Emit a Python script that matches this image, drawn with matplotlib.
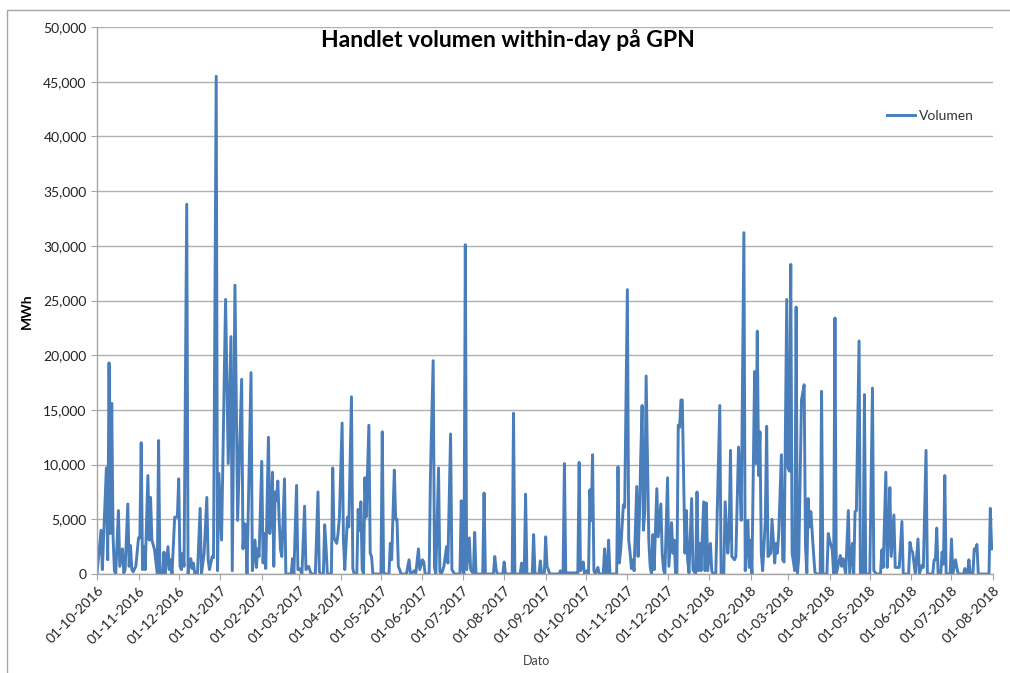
import matplotlib
matplotlib.use('Agg')
import matplotlib.pyplot as plt
import matplotlib.dates as mdates
from matplotlib.ticker import FuncFormatter, MultipleLocator
from matplotlib.patches import Rectangle
import pandas as pd

# days since 01-10-2016 and traded volume (MWh)
days = [0, 3, 4, 7, 8, 9, 10, 11, 12, 13, 14, 16, 17, 19, 20, 21, 23, 24, 25, 26, 27, 29, 31, 32, 33, 34, 35, 36,
        38, 39, 40, 41, 43, 45, 46, 47, 49, 50, 51, 53, 54, 55, 56, 58, 60, 61, 62, 63, 64, 65, 67, 68, 69, 70, 71,
        72, 73, 75, 77, 78, 80, 82, 83, 84, 86, 87, 89, 90, 91, 93, 96, 98, 100, 101, 103, 105, 108, 109, 110, 111,
        112, 115, 116, 118, 119, 120, 121, 123, 124, 125, 126, 128, 129, 130, 131, 132, 133, 134, 135, 136, 137, 138,
        140, 141, 145, 146, 147, 149, 150, 151, 152, 153, 155, 156, 158, 159, 160, 163, 165, 166, 167, 169, 170, 171,
        172, 175, 176, 177, 179, 180, 181, 183, 184, 185, 187, 188, 190, 191, 192, 194, 195, 196, 197, 198, 199, 200,
        201, 203, 204, 205, 206, 212, 213, 214, 215, 218, 219, 220, 222, 223, 224, 225, 226, 227,
        231, 233, 234, 237, 238, 240, 241, 243, 244, 245, 248, 249, 251, 252, 253, 255, 256, 257, 258, 259, 261, 262,
        264, 265, 266, 267, 271, 272, 273, 274, 275, 276, 278, 279, 280, 281, 282, 283, 288, 289, 290, 296, 297, 298,
        299, 303, 304, 305, 310, 311, 312, 316, 317, 318, 319, 320, 321, 325, 326, 327, 330, 331, 332, 334, 335, 336,
        337, 338,
        345, 346, 347, 348, 349, 350, 351, 358, 359, 360, 361, 362, 363, 364, 366, 367, 368, 369, 370, 371, 372, 374,
        375, 378, 379, 380, 381, 382, 383, 388, 389, 390, 391, 393, 394, 396, 397, 398, 399, 400, 401, 403, 404, 405,
        406, 407, 408, 409, 410, 412, 413, 414, 415, 416, 418, 419, 421, 422, 423, 424, 426, 427, 429, 430, 431, 432,
        433, 434, 435, 436, 437, 439, 440, 441, 442, 444, 445, 447, 448, 449,
        450, 451, 453, 454, 455, 456, 458, 459, 460, 462, 465, 466, 468, 469, 471, 472, 473, 474, 476, 477, 479, 480,
        481, 483, 484, 486, 487, 488, 489, 491, 492, 493, 494, 495, 496, 497, 499, 500, 501, 503, 504, 506, 507, 508,
        509, 511, 512, 513, 515, 516, 517, 518, 519, 521, 522, 523, 524, 526, 528, 529, 530, 531, 532, 533, 535, 536,
        537, 540, 541, 542, 545, 546, 547, 549, 550, 551, 552, 555, 556, 557, 559, 561, 562,
        564, 565, 566, 567, 569, 570, 572, 573, 574, 577, 579, 580, 582, 585, 586, 587, 589, 590, 591, 592, 593, 595,
        596, 599, 601, 602, 606, 607, 608, 609, 611, 613, 614, 616, 617, 619, 620, 624, 625, 626, 627, 628, 630, 631,
        632, 633, 634, 637, 638, 639, 641, 642, 643, 647, 648, 649, 650, 651, 652, 654, 655, 656, 657, 658, 666, 667,
        668]

volumen = [0, 4000, 400, 9700, 1300, 19300, 3700, 15600, 3400, 300, 0, 5800, 700, 2300, 100, 400, 6400, 700, 2600,
           400, 200, 700, 3300, 3300, 12000, 400, 2500, 400,
           9000, 3100, 7000, 3100, 2200, 0, 12200, 0, 0, 2000, 0, 2500, 400, 1300, 0, 5200, 5200, 8700, 700, 400, 1900,
           700, 33800, 0, 1000, 1400, 500,
           1000, 0, 0, 6000, 0, 1900, 7000, 1300, 400, 1600, 1500, 45500, 300, 9200, 3100, 25100, 10100, 21700, 300,
           26400, 4900, 17800, 2300, 4600, 4500,
           0, 18400, 300, 3100, 600, 2300, 1600, 10300, 1000, 3700, 500, 12500, 3700, 5800, 9300, 700, 7500, 6700,
           8500, 5000, 2200, 1600,
           8700, 0, 0, 1400, 0, 8100, 400, 500, 300, 0, 6200, 400, 700, 300, 0, 0, 7500, 200, 0, 0, 4500, 2500,
           0, 0, 9700, 3300, 2800, 3700, 5200, 13800, 3100, 400, 5200, 4300, 16200, 500, 0, 0, 5900, 4000, 6600, 400,
           0, 8800,
           5200, 13600, 1900, 1600, 0, 0, 13000, 200, 0, 0, 2800, 1300, 9500, 5000, 5000, 700, 400, 0,
           0, 1300, 0, 300, 0, 2300, 400, 1300, 1100, 0, 0, 9300, 19500, 600, 0, 9700, 200, 0, 300, 700, 2500, 1000,
           12800, 400, 200, 0, 0, 6700, 400, 0, 30100, 400, 3300, 400, 200, 0, 3800, 0, 0, 7400, 0, 0, 1600, 400,
           0, 0, 1100, 0, 0, 14700, 0, 0, 1000, 0, 0, 7300, 0, 0, 3600, 0, 0, 1200, 0, 0, 3400, 700,
           400, 0,
           0, 300, 0, 0, 10100, 0, 100, 100, 0, 10200, 300, 600, 1100, 0, 300, 0, 7700, 4900, 10900, 300, 0, 600,
           0, 0, 2300, 0, 0, 3100, 0, 0, 9800, 1000, 2200, 6300, 6100, 26000, 3100, 2000, 500, 1300, 300, 8000, 1600,
           5200,
           10800, 15400, 4000, 5800, 18100, 3100, 700, 0, 3600, 400, 7800, 3400, 6400, 1900, 400, 0, 8800, 700, 4700,
           1900, 3100, 0,
           0, 13600, 13400, 15900, 15900, 1900, 5800, 1300, 100, 6900, 400, 0, 7500, 300,
           2800, 300, 6600, 300, 6500, 300, 2800, 300, 0, 0, 15400, 0, 0, 6600, 1900, 3900, 11300, 1600, 1300, 1600,
           11600, 8800,
           4900, 31200, 300, 4900, 600, 3100, 0, 18500, 10100, 22200, 9000, 13000, 1900, 300, 4900, 13500, 1600, 1900,
           5000, 1000, 2800, 1900,
           3700, 10900, 1300, 1100, 25100, 9700, 9400, 28300, 1900, 300, 24400, 0, 1600, 15900, 17300, 2500, 100,
           6900, 4300, 5700, 1900, 200,
           0, 0, 16700, 0, 0, 3700, 3100, 2200, 0, 23400, 0, 1700, 700, 1400, 0, 5800, 0,
           2800, 0, 5700, 5800, 21300, 0, 0, 16400, 0, 0, 17000, 300, 0, 0, 2200, 600, 9300, 600, 3700, 7900, 1600,
           5400,
           600, 600, 4800, 0, 0, 2900, 2200, 2000, 0, 3200, 0, 800, 600, 11300, 0, 0, 1300, 1300, 4200, 0, 0, 2000,
           900, 9000, 0, 0, 3200, 0, 1300, 600, 0, 0, 500, 0, 0, 1300, 0, 0, 2300, 2200, 2700, 0, 0, 6000,
           2300]

start = pd.Timestamp('2016-10-01')
end = pd.Timestamp('2018-08-01')
dates = start + pd.to_timedelta(days, unit='D')

plt.rcParams['font.family'] = ['Lato', 'DejaVu Sans']

fig = plt.figure(figsize=(10.1, 6.73), dpi=100)
ax = fig.add_axes([97 / 1010, 1 - 574 / 673, (993 - 97) / 1010, (574 - 27) / 673])

ax.plot(dates, volumen, color='#4a7ebb', lw=2.1, label='Volumen', solid_joinstyle='round')

ax.set_xlim(start, end)
ax.set_ylim(0, 50000)
ax.yaxis.set_major_locator(MultipleLocator(5000))
ax.yaxis.set_major_formatter(FuncFormatter(lambda v, p: '{:,.0f}'.format(v)))
ax.xaxis.set_major_locator(mdates.MonthLocator())
ax.xaxis.set_major_formatter(mdates.DateFormatter('%d-%m-%Y'))

ax.grid(axis='y', color='#b0b0b0', lw=1)
ax.set_axisbelow(True)
for s in ['top', 'right']:
    ax.spines[s].set_visible(False)
for s in ['left', 'bottom']:
    ax.spines[s].set_color('#a6a6a6')
    ax.spines[s].set_linewidth(1)
ax.tick_params(axis='both', colors='#a6a6a6', length=4, labelcolor='#222222', labelsize=10)
plt.setp(ax.get_xticklabels(), rotation=45, ha='right', rotation_mode='anchor')

ax.set_ylabel('MWh', fontsize=10, fontweight='bold')
ax.yaxis.set_label_coords(-0.072, 0.48)
ax.set_xlabel('Dato', fontsize=9, color='#444444')
ax.xaxis.set_label_coords(0.49, -0.148)

fig.text(508 / 1010, 1 - 40 / 673, 'Handlet volumen within-day på GPN', ha='center', va='center',
         fontsize=16.5, fontweight='bold')

ax.legend(loc='center right', bbox_to_anchor=(0.985, 0.837), frameon=False, fontsize=10,
          handlelength=2.0, handletextpad=0.3, borderaxespad=0, labelcolor='#333333')

fig.add_artist(Rectangle((7 / 1010, -0.05), 1.1, 1 - 10 / 673 + 0.05, transform=fig.transFigure,
                         fill=False, edgecolor='#a6a6a6', lw=1))

plt.savefig('out.png', dpi=100)
